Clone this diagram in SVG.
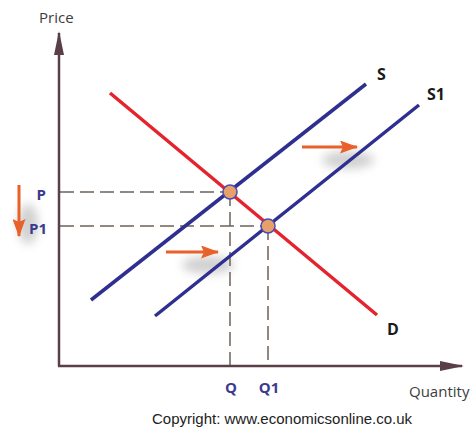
<svg xmlns="http://www.w3.org/2000/svg" width="475" height="430" viewBox="0 0 475 430">
<defs>
<filter id="blur" x="-50%" y="-100%" width="200%" height="300%"><feGaussianBlur stdDeviation="5"/></filter>
<marker id="ax" viewBox="0 0 24 10" refX="22" refY="5" markerWidth="24" markerHeight="10" markerUnits="userSpaceOnUse" orient="auto"><path d="M0,0 L24,5 L0,10 Z" fill="#5b3f47"/></marker>
<marker id="oa" viewBox="0 0 18 13" refX="17" refY="6.5" markerWidth="18" markerHeight="13" markerUnits="userSpaceOnUse" orient="auto"><path d="M0,0 L18,6.5 L0,13 L3,6.5 Z" fill="#e8602a"/></marker>
</defs>
<style>
.axis{stroke:#5b3f47;stroke-width:2.5;fill:none}
.dash{stroke:#6e6358;stroke-width:1.5;stroke-dasharray:14 6;fill:none}
.sup{stroke:#2e2f8f;stroke-width:3.5;fill:none}
.dem{stroke:#e5232d;stroke-width:3.5;fill:none}
.shift{stroke:#e8602a;stroke-width:3;fill:none}
.pt{fill:#e8a06a;stroke:#4a4ab0;stroke-width:1.5}
.lab{font-family:"Open Sans","Liberation Sans",sans-serif;font-size:15px;fill:#3d3d3d}
.pq{font-family:"Open Sans","Liberation Sans",sans-serif;font-size:15px;font-weight:bold;fill:#3b3b8e}
.cl{font-family:"Open Sans","Liberation Sans",sans-serif;font-size:16px;font-weight:bold;fill:#1a1a1a}
.copy{font-family:"Liberation Sans",Arial,sans-serif;font-size:15px;fill:#222}
.sh{fill:#9a9a9a;opacity:0.45}
</style>
<g id="shadows">
<ellipse class="sh" cx="348" cy="160" rx="26" ry="9" filter="url(#blur)"/>
<ellipse class="sh" cx="208" cy="265" rx="26" ry="9" filter="url(#blur)"/>
<ellipse class="sh" cx="28" cy="224" rx="10" ry="20" filter="url(#blur)"/>
</g>
<g id="connectors">
<line class="dash" x1="60" y1="192" x2="230" y2="192"/>
<line class="dash" x1="60" y1="226" x2="268" y2="226"/>
<line class="dash" x1="230" y1="192" x2="230" y2="366"/>
<line class="dash" x1="268" y1="226" x2="268" y2="366"/>
</g>
<g id="axes">
<line class="axis" x1="59" y1="366" x2="59" y2="33" marker-end="url(#ax)"/>
<line class="axis" x1="58" y1="366" x2="462" y2="366" marker-end="url(#ax)"/>
</g>
<g id="supply-S"><line class="sup" x1="91" y1="300" x2="366" y2="84"/></g>
<g id="supply-S1"><line class="sup" x1="155" y1="316" x2="419" y2="105"/></g>
<g id="demand-D"><line class="dem" x1="110" y1="93" x2="377" y2="315"/></g>
<g id="eq1"><circle class="pt" cx="230" cy="192" r="7"/></g>
<g id="eq2"><circle class="pt" cx="268" cy="226" r="7"/></g>
<g id="shift-arrows">
<line class="shift" x1="302" y1="147" x2="357" y2="147" marker-end="url(#oa)"/>
<line class="shift" x1="166" y1="252" x2="218" y2="252" marker-end="url(#oa)"/>
<line class="shift" x1="19" y1="185" x2="19" y2="236" marker-end="url(#oa)"/>
</g>
<g id="labels">
<text class="lab" x="39" y="23">Price</text>
<text class="lab" x="409" y="397">Quantity</text>
<text class="pq" x="46" y="200" text-anchor="end">P</text>
<text class="pq" x="47" y="234" text-anchor="end">P1</text>
<text class="pq" x="231" y="393" text-anchor="middle">Q</text>
<text class="pq" x="269" y="393" text-anchor="middle">Q1</text>
<text class="cl" x="377" y="80">S</text>
<text class="cl" x="427" y="100">S1</text>
<text class="cl" x="387" y="335">D</text>
<text class="copy" x="152" y="424">Copyright: www.economicsonline.co.uk</text>
</g>
</svg>
